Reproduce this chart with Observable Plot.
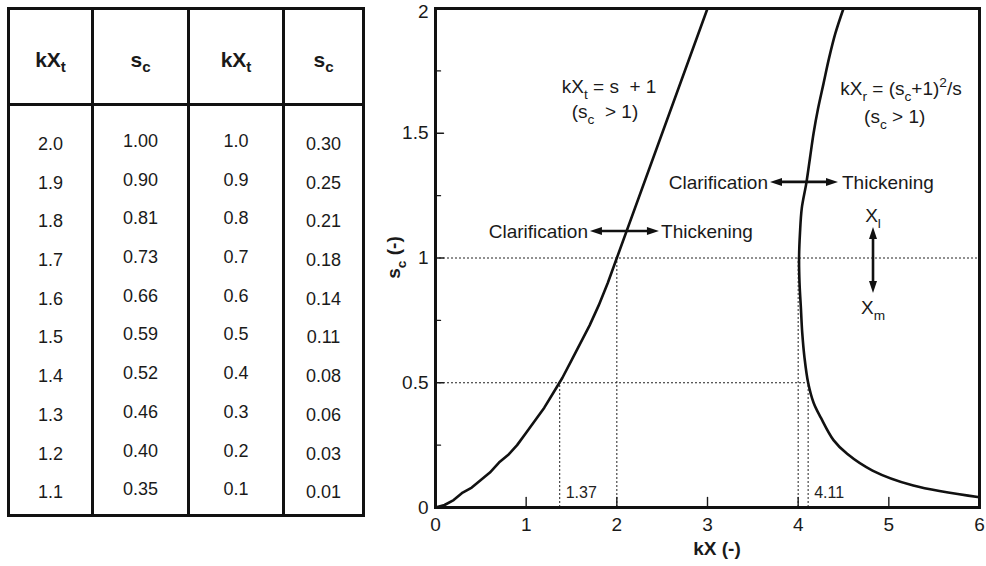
<!DOCTYPE html>
<html><head><meta charset="utf-8">
<script src="https://cdn.jsdelivr.net/npm/d3@7"></script>
<script src="https://cdn.jsdelivr.net/npm/@observablehq/plot@0.6"></script>
<style>
html,body{margin:0;padding:0;background:#fff}
body{font-family:"Liberation Sans",Arial,Helvetica,sans-serif;width:986px;height:566px;overflow:hidden;position:relative;color:#1a1a1a}
#tbl{position:absolute;left:7px;top:7px;border-collapse:collapse;table-layout:fixed}
#tbl th,#tbl td{border:3px solid #111;text-align:center;padding:0}
#tbl th{height:87px;font-size:21px;font-weight:bold;padding-top:6px}
#tbl th sub{font-size:72%;vertical-align:-0.3em;line-height:0}
#tbl td{vertical-align:top;padding-top:16px;padding-bottom:2px;font-size:18px}
#tbl td.low{padding-top:19px}
#tbl td div{height:38.7px;line-height:38.7px}
#chart{position:absolute;left:380px;top:0}
</style></head><body>
<table id="tbl"></table><div id="chart"></div>
<script>
// ---- table data ----
const headerBase = ["kX", "s", "kX", "s"];
const headerSub = ["t", "c", "t", "c"];
const kXtHigh = [2.0, 1.9, 1.8, 1.7, 1.6, 1.5, 1.4, 1.3, 1.2, 1.1];
const scHigh  = [1.00, 0.90, 0.81, 0.73, 0.66, 0.59, 0.52, 0.46, 0.40, 0.35];
const kXtLow  = [1.0, 0.9, 0.8, 0.7, 0.6, 0.5, 0.4, 0.3, 0.2, 0.1];
const scLow   = [0.30, 0.25, 0.21, 0.18, 0.14, 0.11, 0.08, 0.06, 0.03, 0.01];

// ---- curve data ----
// upper branch of the left curve, kX_t = s + 1 (s_c > 1)
const leftUpperKX = [3.0];
const leftUpperS  = [2.0];
const originKX = [0];
const originS = [0];
// right curve kX_r
const rightKX = [4.50, 4.41, 4.34, 4.28, 4.22, 4.17, 4.13, 4.09, 4.04, 4.02, 4.01, 4.015, 4.03, 4.045, 4.07, 4.11, 4.17, 4.25, 4.39, 4.54, 4.82, 5.27, 6.00];
const rightS  = [2.00, 1.90, 1.80, 1.70, 1.60, 1.50, 1.40, 1.30, 1.20, 1.10, 1.00, 0.90, 0.80, 0.70, 0.60, 0.50, 0.42, 0.36, 0.27, 0.215, 0.148, 0.088, 0.041];

// reference (dotted) lines
const hRefY  = [1.0, 0.5];
const hRefX2 = [6.0, 4.11];
const vRefX  = [1.37, 2.0, 4.0, 4.11];
const vRefY2 = [0.5, 1.0, 1.0, 0.5];
const refLabels = ["1.37", "4.11"];
const refLabelX = [1.37, 4.11];

// axis ticks
const xTickValues = [0, 1, 2, 3, 4, 5, 6];
const xInnerTicks = [1, 2, 3, 4, 5];
const yTickValues = [0, 0.5, 1, 1.5];
const yTopTick = [2];
const yMajorTicks = [0.5, 1, 1.5];
const yMinorTicks = [0.25, 0.75, 1.25, 1.75];

// ---- build table ----
const tbl = d3.select("#tbl");
const cg = tbl.append("colgroup");
[84, 96, 95, 80].forEach(w => cg.append("col").style("width", w + "px"));
const hr = tbl.append("tr");
headerBase.forEach((h, i) => { const th = hr.append("th"); th.append("span").text(h); th.append("sub").text(headerSub[i]); });
const br = tbl.append("tr");
const cols = [kXtHigh.map(v => v.toFixed(1)), scHigh.map(v => v.toFixed(2)), kXtLow.map(v => v.toFixed(1)), scLow.map(v => v.toFixed(2))];
cols.forEach((c, i) => {
  const td = br.append("td").attr("class", (i === 0 || i === 3) ? "low" : null);
  c.forEach(v => td.append("div").text(v));
});

// ---- plot data tables ----
const leftCurve = [];
originKX.forEach((k, i) => leftCurve.push({kx: k, s: originS[i]}));
const kl = kXtLow.slice().reverse(), sl = scLow.slice().reverse();
kl.forEach((k, i) => leftCurve.push({kx: k, s: sl[i]}));
const kh = kXtHigh.slice().reverse(), sh = scHigh.slice().reverse();
kh.forEach((k, i) => leftCurve.push({kx: k, s: sh[i]}));
leftUpperKX.forEach((k, i) => leftCurve.push({kx: k, s: leftUpperS[i]}));
const rightCurve = rightKX.map((k, i) => ({kx: k, s: rightS[i]}));
const hRefs = hRefY.map((y, i) => ({y, x1: 0, x2: hRefX2[i]}));
const vRefs = vRefX.map((x, i) => ({x, y1: 0, y2: vRefY2[i]}));

const tickShape = {draw(ctx, l) { ctx.moveTo(0, 0); ctx.lineTo(0, -l); }};
const FONT = "Liberation Sans, Arial, Helvetica, sans-serif";

const plot = Plot.plot({
  width: 606, height: 566,
  marginLeft: 55, marginRight: 7, marginTop: 8, marginBottom: 59,
  style: {fontFamily: FONT, fontSize: "19px", color: "#1a1a1a", background: "white", overflow: "visible"},
  x: {domain: [0, 6]},
  y: {domain: [0, 2]},
  marks: [
    Plot.ruleY(hRefs, {y: "y", x1: "x1", x2: "x2", stroke: "#222", strokeWidth: 1, strokeDasharray: "2,2"}),
    Plot.ruleX(vRefs, {x: "x", y1: "y1", y2: "y2", stroke: "#222", strokeWidth: 1, strokeDasharray: "2,2"}),
    Plot.line(leftCurve, {x: "kx", y: "s", stroke: "#111", strokeWidth: 2.6}),
    Plot.line(rightCurve, {x: "kx", y: "s", stroke: "#111", strokeWidth: 2.6, curve: "catmull-rom"}),
    Plot.text(refLabels, {x: (d, i) => refLabelX[i], y: 0, text: d => d, textAnchor: "start", dx: 6, dy: -15, fontSize: 16, fill: "#222"}),
    Plot.vector(xInnerTicks, {x: d => d, y: 0, length: 10, anchor: "start", shape: tickShape, strokeWidth: 1.4}),
    Plot.vector(yMajorTicks, {x: 0, y: d => d, length: 8, rotate: 90, anchor: "start", shape: tickShape, strokeWidth: 1.4}),
    Plot.vector(yMinorTicks, {x: 0, y: d => d, length: 5, rotate: 90, anchor: "start", shape: tickShape, strokeWidth: 1.4}),
    Plot.axisX(xTickValues, {tickSize: 0, tickPadding: 10, label: null, tickFormat: d => String(d)}),
    Plot.axisY(yTickValues, {tickSize: 0, tickPadding: 7, label: null, tickFormat: d => String(d)}),
    Plot.axisY(yTopTick, {tickSize: 0, tickPadding: 7, label: null, dy: 3, tickFormat: d => String(d)}),
    Plot.frame({stroke: "#111", strokeWidth: 3})
  ]
});
document.getElementById("chart").appendChild(plot);

// ---- annotations (rich text with sub/superscripts) ----
const svg = d3.select(plot);
const X = plot.scale("x"), Y = plot.scale("y");
const g = svg.append("g").attr("font-family", FONT).attr("fill", "#1a1a1a");

function rich(text, str, fs) {
  const re = /([_^])\{([^}]*)\}/g;
  let last = 0, m, reset = 0;
  const push = (s) => { const t = text.append("tspan").text(s); if (reset) { t.attr("dy", reset); reset = 0; } };
  while ((m = re.exec(str))) {
    if (m.index > last) push(str.slice(last, m.index));
    const shift = m[1] === "_" ? fs * 0.32 : -fs * 0.4;
    text.append("tspan").attr("font-size", fs * 0.72).attr("dy", shift + reset).text(m[2]);
    reset = -shift;
    last = re.lastIndex;
  }
  if (last < str.length) push(str.slice(last));
}
function label(str, x, y, anchor, fs, opts = {}) {
  const t = g.append("text").attr("x", X.apply(x)).attr("y", Y.apply(y)).attr("text-anchor", anchor).attr("font-size", fs);
  if (opts.central) t.attr("dy", "0.35em");
  if (opts.bold) t.attr("font-weight", "bold");
  rich(t, str, fs);
  return t;
}
function arrow(x1, y1, x2, y2) {
  const p1 = [X.apply(x1), Y.apply(y1)], p2 = [X.apply(x2), Y.apply(y2)];
  const dx = p2[0] - p1[0], dy = p2[1] - p1[1], L = Math.hypot(dx, dy), ux = dx / L, uy = dy / L;
  const hl = 12, hw = 4;
  g.append("line").attr("x1", p1[0] + ux * hl * 0.8).attr("y1", p1[1] + uy * hl * 0.8)
    .attr("x2", p2[0] - ux * hl * 0.8).attr("y2", p2[1] - uy * hl * 0.8)
    .attr("stroke", "#111").attr("stroke-width", 2.6);
  const head = (tip, dir) => {
    const bx = tip[0] - dir[0] * hl, by = tip[1] - dir[1] * hl;
    g.append("path").attr("fill", "#111")
      .attr("d", `M${tip[0]},${tip[1]}L${bx - dir[1] * hw},${by + dir[0] * hw}L${bx + dir[1] * hw},${by - dir[0] * hw}Z`);
  };
  head(p2, [ux, uy]);
  head(p1, [-ux, -uy]);
}

label("kX_{t} = s\u00a0\u00a0+ 1", 1.92, 1.659, "middle", 19);
label("(s_{c}\u00a0\u00a0> 1)", 1.875, 1.559, "middle", 19);
label("kX_{r} = (s_{c}+1)^{2}/s", 5.14, 1.651, "middle", 19);
label("(s_{c} > 1)", 5.07, 1.539, "middle", 19);

label("Clarification", 1.687, 1.106, "end", 19, {central: true});
arrow(1.709, 1.106, 2.470, 1.106);
label("Thickening", 2.493, 1.106, "start", 19, {central: true});

label("Clarification", 3.673, 1.303, "end", 19, {central: true});
arrow(3.695, 1.303, 4.445, 1.303);
label("Thickening", 4.489, 1.303, "start", 19, {central: true});

label("X_{l}", 4.831, 1.170, "middle", 19, {central: true});
arrow(4.831, 1.122, 4.831, 0.858);
label("X_{m}", 4.831, 0.802, "middle", 19, {central: true});

// axis titles
const yl = g.append("text").attr("transform", `translate(13,${Y.apply(1)}) rotate(-90)`)
  .attr("text-anchor", "middle").attr("dy", "0.35em").attr("font-size", 19).attr("font-weight", "bold");
rich(yl, "s_{c} (-)", 19);
g.append("text").attr("x", X.apply(3.11)).attr("y", 548).attr("dy", "0.35em").attr("text-anchor", "middle")
  .attr("font-size", 19).attr("font-weight", "bold").text("kX (-)");
</script>
</body></html>
